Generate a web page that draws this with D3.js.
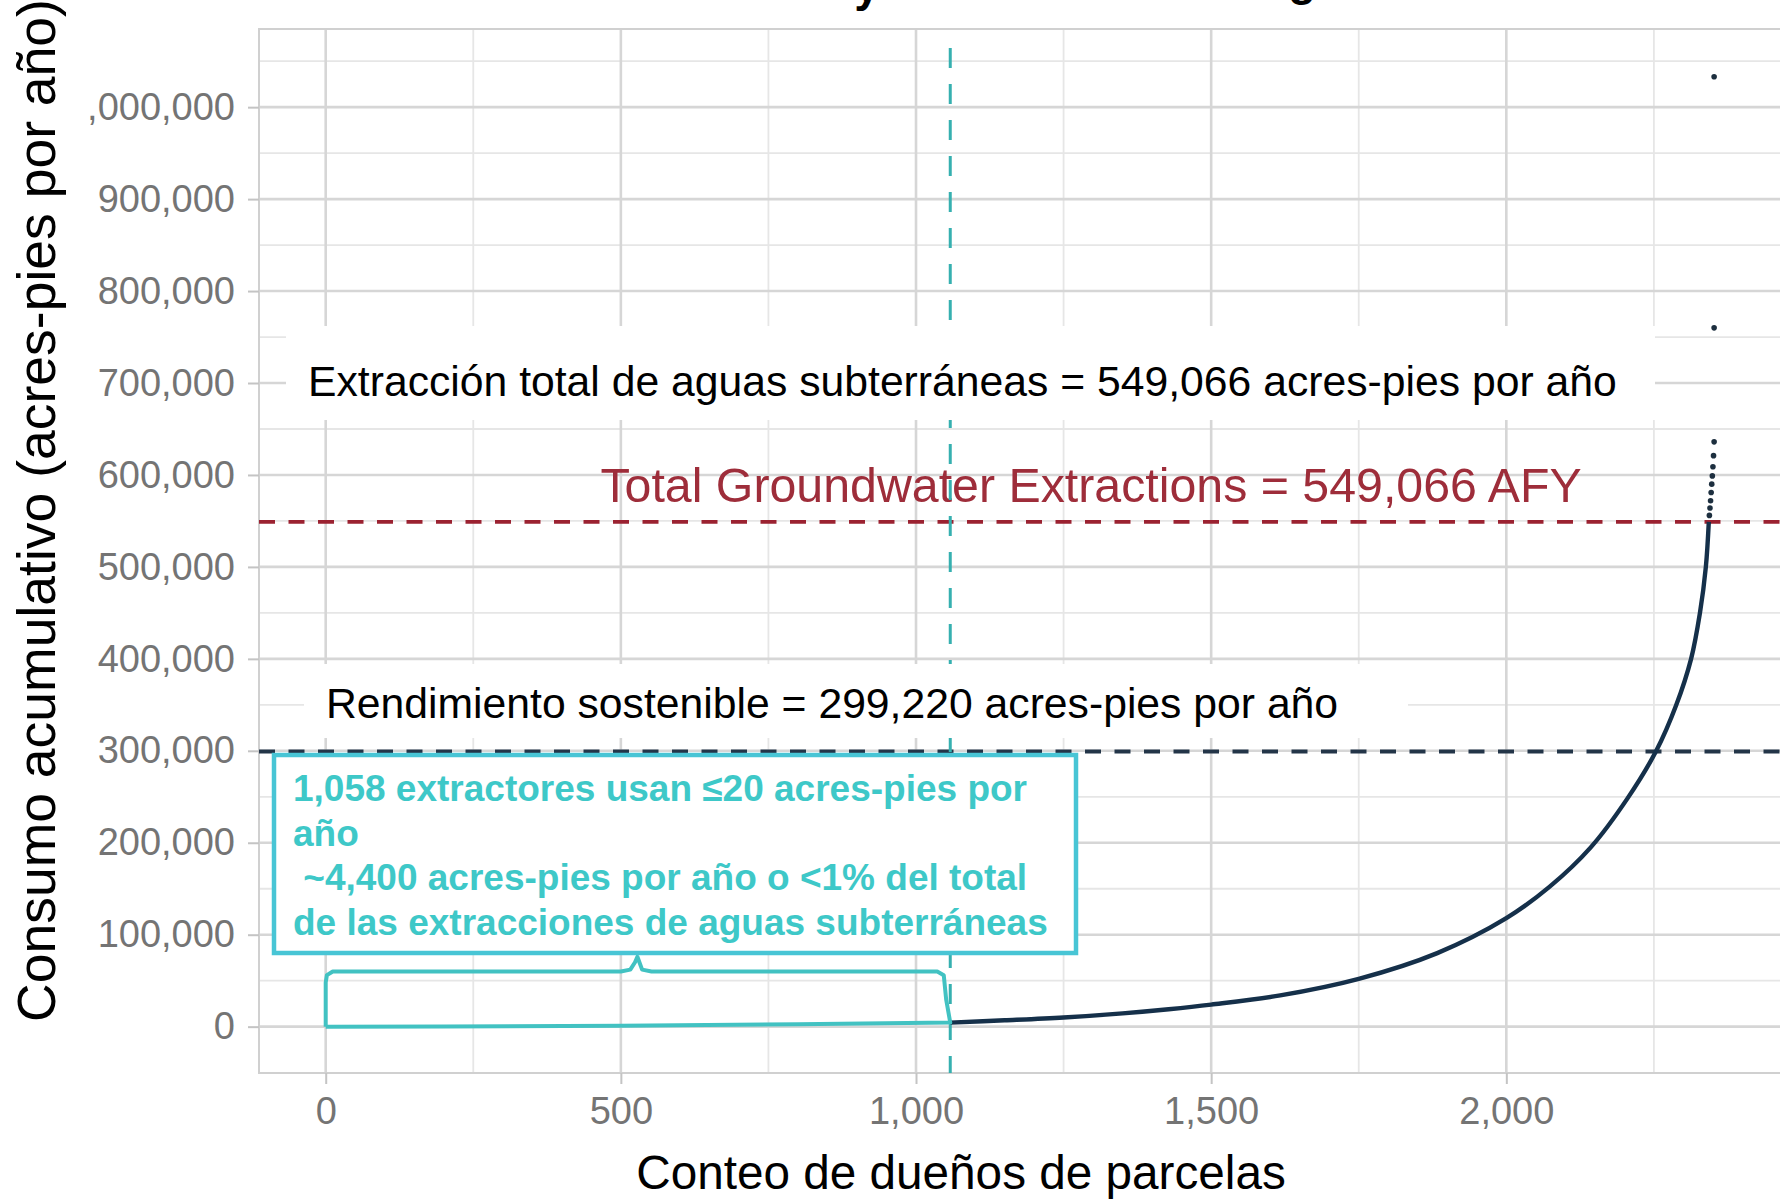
<!DOCTYPE html>
<html>
<head>
<meta charset="utf-8">
<script src="https://cdn.jsdelivr.net/npm/d3@7"></script>
<style>
	body { margin: 0; background: #fff; }
	text { font-family: "Liberation Sans", Arial, sans-serif; }
</style>
</head>
<body>
<div id="chart"></div>
<script>
// cumulative use curve
var owners = [1058, 1150, 1250, 1350, 1428, 1500, 1617, 1750, 1883, 2000, 2073, 2143, 2205, 2254, 2288, 2313, 2328, 2338, 2343];
var cumAF = [4400, 6900, 10000, 14500, 19000, 24000, 34000, 52000, 80000, 118000, 152000, 195000, 248000, 300000, 350000, 400000, 450000, 500000, 549000];

// last owners, drawn as separate dots
var dotOwners = [2344, 2345, 2346, 2347, 2348, 2349, 2350, 2351, 2352];
var dotAF = [556000, 564000, 572000, 581000, 590000, 599000, 609000, 621000, 636000];
var outlierOwners = [2352, 2352];
var outlierAF = [760000, 1033000];

// reference lines
var totalExtraction = 549066;
var sustainableYield = 299220;
var smallUsers = 1058;

// brace under the small users
var braceX = [0, 0, 2, 12, 500, 516, 524, 528, 536, 552, 1036, 1047, 1051, 1058, 800, 500, 200, 0];
var braceY = [0, 48000, 56000, 60000, 60000, 62000, 70000, 76000, 62000, 60000, 60000, 56000, 30000, 4400, 2600, 1100, 250, 0];

var xTicks = [0, 500, 1000, 1500, 2000];
var xMinor = [250, 750, 1250, 1750, 2250];
var yTicks = [0, 100000, 200000, 300000, 400000, 500000, 600000, 700000, 800000, 900000, 1000000];
var yMinor = [50000, 150000, 250000, 350000, 450000, 550000, 650000, 750000, 850000, 950000, 1050000];

var noteLines = ["1,058 extractores usan \u226420 acres-pies por", "a\u00f1o", " ~4,400 acres-pies por a\u00f1o o <1% del total", "de las extracciones de aguas subterr\u00e1neas"];

var W = 1780, H = 1200;
var panel = {left: 259, right: 1782, top: 29, bottom: 1073};

var svg = d3.select("#chart").append("svg")
	.attr("width", W)
	.attr("height", H);

svg.append("rect").attr("width", W).attr("height", H).attr("fill", "#fff");

var x = d3.scaleLinear().domain([-113, 2467]).range([panel.left, panel.right]);
var y = d3.scaleLinear().domain([-50400, 1085000]).range([panel.bottom, panel.top]);

var g = svg.append("g");

// grid
g.selectAll(".xminor").data(xMinor).enter().append("line")
	.attr("x1", d => x(d)).attr("x2", d => x(d))
	.attr("y1", panel.top).attr("y2", panel.bottom)
	.attr("stroke", "#e6e6e6").attr("stroke-width", 1.8);
g.selectAll(".yminor").data(yMinor).enter().append("line")
	.attr("x1", panel.left).attr("x2", panel.right)
	.attr("y1", d => y(d)).attr("y2", d => y(d))
	.attr("stroke", "#e6e6e6").attr("stroke-width", 1.8);
g.selectAll(".xmajor").data(xTicks).enter().append("line")
	.attr("x1", d => x(d)).attr("x2", d => x(d))
	.attr("y1", panel.top).attr("y2", panel.bottom)
	.attr("stroke", "#d6d6d6").attr("stroke-width", 2.6);
g.selectAll(".ymajor").data(yTicks).enter().append("line")
	.attr("x1", panel.left).attr("x2", panel.right)
	.attr("y1", d => y(d)).attr("y2", d => y(d))
	.attr("stroke", "#d6d6d6").attr("stroke-width", 2.6);

g.append("rect")
	.attr("x", panel.left).attr("y", panel.top)
	.attr("width", panel.right - panel.left).attr("height", panel.bottom - panel.top)
	.attr("fill", "none").attr("stroke", "#d0d0d0").attr("stroke-width", 2);

// original plot label
g.append("text")
	.attr("x", 1091).attr("y", 502)
	.attr("text-anchor", "middle")
	.attr("font-size", 48.3)
	.attr("fill", "#9e2d3a")
	.text("Total Groundwater Extractions = 549,066 AFY");

// horizontal reference lines
g.append("line")
	.attr("x1", panel.left).attr("x2", panel.right)
	.attr("y1", y(totalExtraction)).attr("y2", y(totalExtraction))
	.attr("stroke", "#9b2231").attr("stroke-width", 3.8)
	.attr("stroke-dasharray", "16 13.5");
g.append("line")
	.attr("x1", panel.left).attr("x2", panel.right)
	.attr("y1", y(sustainableYield)).attr("y2", y(sustainableYield))
	.attr("stroke", "#233548").attr("stroke-width", 3.8)
	.attr("stroke-dasharray", "16 13.5");

// vertical line at the small users
g.append("line")
	.attr("x1", x(smallUsers)).attr("x2", x(smallUsers))
	.attr("y1", 48).attr("y2", panel.bottom)
	.attr("stroke", "#36b0b0").attr("stroke-width", 3)
	.attr("stroke-dasharray", "20 16");

// curve
var curve = owners.map(function(d, i) { return [d, cumAF[i]]; });
var line = d3.line()
	.x(d => x(d[0]))
	.y(d => y(d[1]))
	.curve(d3.curveCatmullRom.alpha(0.5));

g.append("path")
	.datum(curve)
	.attr("d", line)
	.attr("fill", "none")
	.attr("stroke", "#15304a")
	.attr("stroke-width", 4.4);

var dots = dotOwners.map(function(d, i) { return [d, dotAF[i]]; })
	.concat(outlierOwners.map(function(d, i) { return [d, outlierAF[i]]; }));
g.selectAll(".dot").data(dots).enter().append("circle")
	.attr("class", "dot")
	.attr("cx", d => x(d[0]))
	.attr("cy", d => y(d[1]))
	.attr("r", 2.8)
	.attr("fill", "#1d2f3f");

// brace
var brace = braceX.map(function(d, i) { return [d, braceY[i]]; });
g.append("path")
	.datum(brace)
	.attr("d", d3.line().x(d => x(d[0])).y(d => y(d[1])))
	.attr("fill", "none")
	.attr("stroke", "#42c2c2")
	.attr("stroke-width", 4)
	.attr("stroke-linejoin", "round");

// translated labels on white boxes
g.append("rect")
	.attr("x", 286).attr("y", 326).attr("width", 1369).attr("height", 94)
	.attr("fill", "#fff");
g.append("text")
	.attr("x", 308).attr("y", 396)
	.attr("font-size", 42.7)
	.attr("fill", "#000")
	.text("Extracci\u00f3n total de aguas subterr\u00e1neas = 549,066 acres-pies por a\u00f1o");

g.append("rect")
	.attr("x", 304).attr("y", 664).attr("width", 1104).attr("height", 74)
	.attr("fill", "#fff");
g.append("text")
	.attr("x", 326).attr("y", 718)
	.attr("font-size", 42.7)
	.attr("fill", "#000")
	.text("Rendimiento sostenible = 299,220 acres-pies por a\u00f1o");

g.append("rect")
	.attr("x", 274).attr("y", 755).attr("width", 802).attr("height", 198)
	.attr("fill", "#fff")
	.attr("stroke", "#48c5d5")
	.attr("stroke-width", 4.5);
g.selectAll(".note").data(noteLines).enter().append("text")
	.attr("x", 293)
	.attr("y", (d, i) => 801 + i * 44.5)
	.attr("font-size", 37)
	.attr("font-weight", "bold")
	.attr("fill", "#3ec8c8")
	.style("white-space", "pre")
	.text(d => d);

// axes
var yAxis = d3.axisLeft(y).tickValues(yTicks).tickFormat(d3.format(",")).tickSize(11).tickPadding(13);
var xAxis = d3.axisBottom(x).tickValues(xTicks).tickFormat(d3.format(",")).tickSize(11).tickPadding(13);

var ya = svg.append("g").attr("transform", "translate(" + panel.left + ",0)").call(yAxis);
var xa = svg.append("g").attr("transform", "translate(0," + panel.bottom + ")").call(xAxis);
[ya, xa].forEach(function(a) {
	a.select(".domain").remove();
	a.selectAll(".tick line").attr("stroke", "#c4c4c4").attr("stroke-width", 2);
	a.selectAll(".tick text")
		.attr("font-size", 38)
		.attr("fill", "#747474")
		.attr("font-family", "Liberation Sans, Arial, sans-serif");
});
xa.selectAll(".tick text").attr("dy", "0.71em");

// y title sits on a white strip that hides the first digit
svg.append("rect").attr("x", 0).attr("y", 0).attr("width", 86).attr("height", 1045).attr("fill", "#fff");
svg.append("text")
	.attr("transform", "translate(55,1022) rotate(-90)")
	.attr("font-size", 53.5)
	.attr("fill", "#000")
	.text("Consumo acumulativo (acres-pies por a\u00f1o)");

svg.append("text")
	.attr("x", 961).attr("y", 1189)
	.attr("text-anchor", "middle")
	.attr("font-size", 47.7)
	.attr("fill", "#000")
	.text("Conteo de due\u00f1os de parcelas");

// cropped title, only descenders show
svg.append("text").attr("x", 867).attr("y", 1).attr("text-anchor", "middle")
	.attr("font-size", 46).attr("font-weight", "bold").attr("fill", "#000").text("y");
svg.append("text").attr("x", 1302).attr("y", -5).attr("text-anchor", "middle")
	.attr("font-size", 46).attr("font-weight", "bold").attr("fill", "#000").text("g");
</script>
</body>
</html>
